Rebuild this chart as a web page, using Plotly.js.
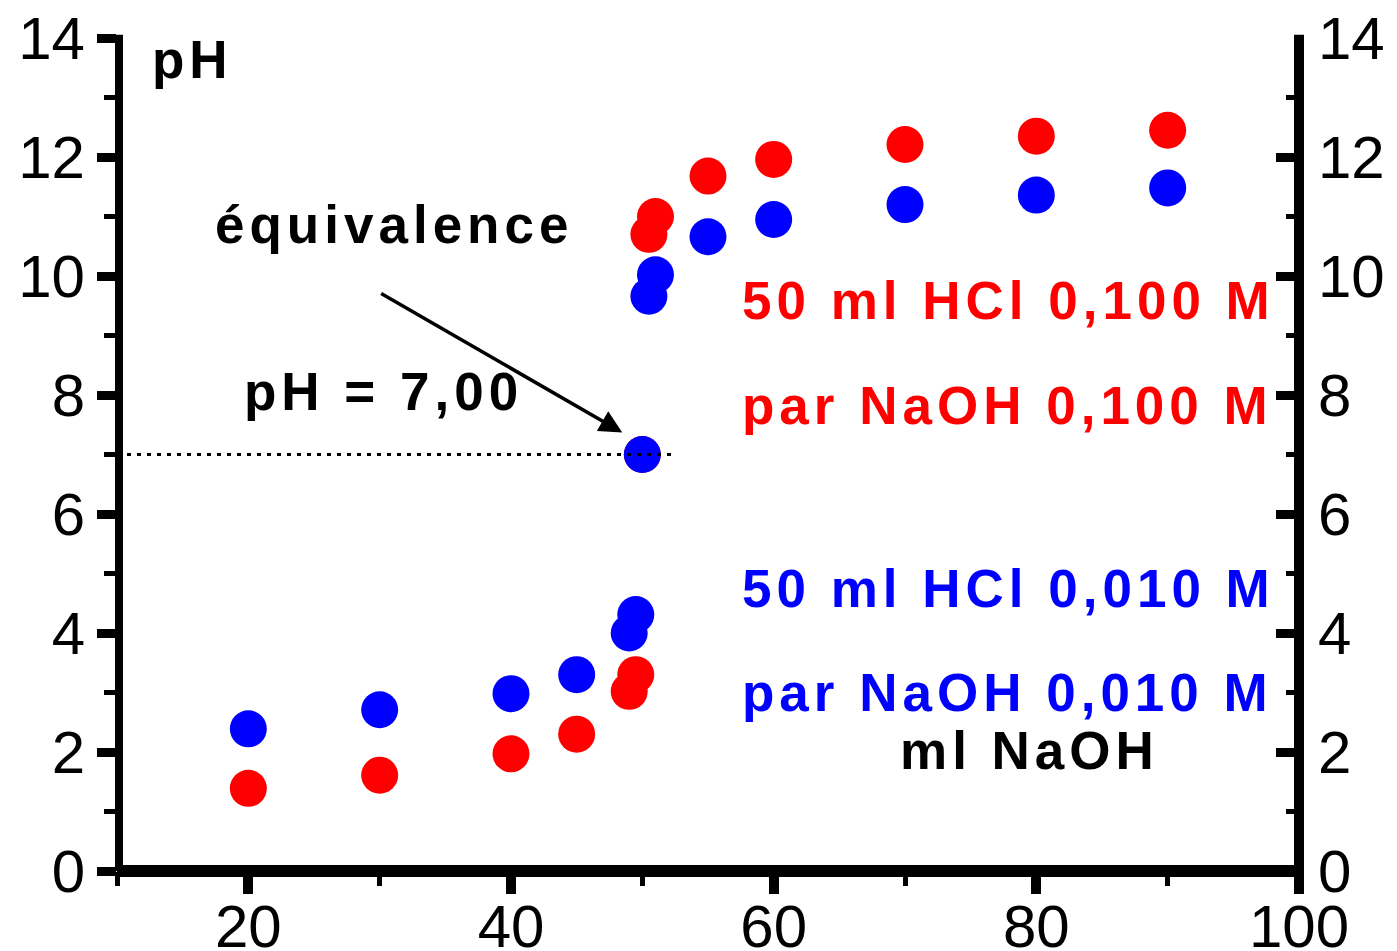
<!DOCTYPE html>
<html><head><meta charset="utf-8">
<script src="https://cdn.plot.ly/plotly-3.0.1.min.js"></script>
<style>
html,body{margin:0;padding:0;background:#fff;}
#chart{width:1397px;height:951px;}
.annotation-text{letter-spacing:5px;}
</style></head><body><div id="chart"></div>
<script>
// Titration of 50 ml HCl 0,100 M by NaOH 0,100 M (red)
const volumeRed = [20, 30, 40, 45, 49, 49.5, 50, 50.5, 51, 55, 60, 70, 80, 90];
const pHRed     = [1.39, 1.61, 1.97, 2.30, 3.02, 3.30, 7.00, 10.70, 11.00, 11.68, 11.96, 12.21, 12.35, 12.45];
// Titration of 50 ml HCl 0,010 M by NaOH 0,010 M (blue)
const volumeBlue = [20, 30, 40, 45, 49, 49.5, 50, 50.5, 51, 55, 60, 70, 80, 90];
const pHBlue     = [2.39, 2.71, 2.98, 3.30, 4.00, 4.31, 7.00, 9.66, 10.02, 10.66, 10.95, 11.20, 11.36, 11.48];
// Equivalence reference line
const equivalenceX = [10, 52.6];
const equivalenceY = [7, 7];
// Tick values
const xTickVals = [20, 40, 60, 80, 100];
const yTickVals = [0, 2, 4, 6, 8, 10, 12, 14];
// Texts
const yLabel = 'pH';
const xLabel = 'ml NaOH';
const eqLabel = 'équivalence';
const eqValueLabel = 'pH = 7,00';
const redLabel1 = '50 ml HCl 0,100 M';
const redLabel2 = 'par NaOH 0,100 M';
const blueLabel1 = '50 ml HCl 0,010 M';
const blueLabel2 = 'par NaOH 0,010 M';

const RED = '#ff0000', BLUE = '#0000ff';
const FAM = 'Liberation Sans, Arial, sans-serif';

const traces = [
  {x: volumeRed, y: pHRed, type: 'scatter', mode: 'markers', xaxis: 'x', yaxis: 'y',
   marker: {color: RED, size: 37, line: {width: 0}}, hoverinfo: 'skip', showlegend: false},
  {x: volumeBlue, y: pHBlue, type: 'scatter', mode: 'markers', xaxis: 'x', yaxis: 'y2',
   marker: {color: BLUE, size: 37, line: {width: 0}}, hoverinfo: 'skip', showlegend: false},
  {x: equivalenceX, y: equivalenceY, type: 'scatter', mode: 'lines', xaxis: 'x', yaxis: 'y2',
   line: {color: '#000', width: 3, dash: '4px,6px'}, hoverinfo: 'skip', showlegend: false}
];

const tickFont = {family: FAM, size: 60, color: '#000'};
const annFont = (c) => ({family: FAM, size: 53, color: c, weight: 'bold'});

function txt(t, x, y, color) {
  return {text: t, x: x, y: y, xref: 'x', yref: 'y', xanchor: 'left', yanchor: 'middle',
          showarrow: false, font: annFont(color)};
}

const layout = {
  width: 1397, height: 951,
  margin: {l: 117, r: 98, t: 38, b: 80},
  paper_bgcolor: '#fff', plot_bgcolor: 'rgba(0,0,0,0)',
  showlegend: false,
  xaxis: {
    range: [10, 100], showgrid: false, zeroline: false, showline: false,
    tickvals: xTickVals, ticks: 'outside', ticklen: 22, tickwidth: 10, tickcolor: '#000',
    tickfont: tickFont, ticklabelstandoff: -19,
    minor: {dtick: 10, tick0: 0, ticks: 'outside', ticklen: 14, tickwidth: 5, tickcolor: '#000', showgrid: false}
  },
  yaxis: {
    range: [0, 14], showgrid: false, zeroline: false, showline: false,
    tickvals: yTickVals, ticks: 'outside', ticklen: 19, tickwidth: 9, tickcolor: '#000',
    tickfont: tickFont, ticklabelstandoff: 0,
    minor: {dtick: 1, tick0: 0, ticks: 'outside', ticklen: 12, tickwidth: 5, tickcolor: '#000', showgrid: false}
  },
  yaxis2: {
    overlaying: 'y', side: 'right', anchor: 'x',
    range: [0, 14], showgrid: false, zeroline: false, showline: false,
    tickvals: yTickVals, ticks: 'inside', ticklen: 23, tickwidth: 9, tickcolor: '#000',
    tickfont: tickFont, ticklabelstandoff: 18,
    minor: {dtick: 1, tick0: 0, ticks: 'inside', ticklen: 13, tickwidth: 5, tickcolor: '#000', showgrid: false}
  },
  shapes: [
    {type: 'line', xref: 'paper', yref: 'paper', x0: 0.0017, x1: 0.0017, y0: 0, y1: 1.004, line: {color: '#000', width: 8}},
    {type: 'line', xref: 'paper', yref: 'paper', x0: 0, x1: 1, y0: 0, y1: 0, line: {color: '#000', width: 12}},
    {type: 'line', xref: 'paper', yref: 'paper', x0: 1, x1: 1, y0: -0.026, y1: 1.004, line: {color: '#000', width: 10}}
  ],
  annotations: [
    txt(yLabel, 12.5, 13.64, '#000'),
    txt(eqLabel, 17.3, 10.86, '#000'),
    txt(eqValueLabel, 19.5, 8.06, '#000'),
    txt(redLabel1, 57.4, 9.58, RED),
    txt(redLabel2, 57.4, 7.83, RED),
    txt(blueLabel1, 57.4, 4.74, BLUE),
    txt(blueLabel2, 57.4, 3.0, BLUE),
    txt(xLabel, 69.5, 2.03, '#000'),
    {text: '', x: 48.47, y: 7.37, xref: 'x', yref: 'y', ax: 30.0, ay: 9.72, axref: 'x', ayref: 'y',
     showarrow: true, arrowhead: 2, arrowsize: 1.3, arrowwidth: 3.5, arrowcolor: '#000', standoff: 0}
  ]
};

Plotly.newPlot('chart', traces, layout, {staticPlot: true, displayModeBar: false});
</script></body></html>
